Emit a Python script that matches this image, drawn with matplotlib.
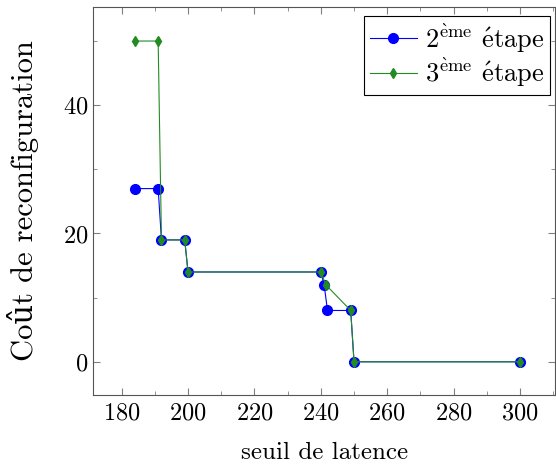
import matplotlib.pyplot as plt
from matplotlib.ticker import MultipleLocator

plt.rcParams['font.family'] = ['cmr10', 'DejaVu Serif']
plt.rcParams['mathtext.fontset'] = 'cm'
plt.rcParams['axes.formatter.use_mathtext'] = True

# ── data ──────────────────────────────────────────────────────────────────────

x_etape2 = [184, 191, 192, 199, 200, 240, 241, 242, 249, 250, 300]
y_etape2 = [27, 27, 19, 19, 14, 14, 12, 8, 8, 0, 0]

x_etape3 = [184, 191, 192, 199, 200, 240, 241.5, 249, 250, 300]
y_etape3 = [50, 50, 19, 19, 14, 14, 12, 8, 0, 0]

# ── plot ──────────────────────────────────────────────────────────────────────

fig = plt.figure(figsize=(5.56, 4.68), dpi=100)
ax = fig.add_axes([0.168, 0.157, 0.830, 0.828])

ax.plot(x_etape2, y_etape2, color="blue", lw=0.8, marker="o", ms=7,
        label=r"2$^{\mathrm{\`eme}}$ $\mathrm{\'etape}$")
ax.plot(x_etape3, y_etape3, color="#228b22", lw=0.8, marker="d", ms=5.5,
        label=r"3$^{\mathrm{\`eme}}$ $\mathrm{\'etape}$")

ax.set_xlim(171.5, 310.5)
ax.set_ylim(-5.1, 55.3)
ax.xaxis.set_major_locator(MultipleLocator(20))
ax.xaxis.set_minor_locator(MultipleLocator(10))
ax.yaxis.set_major_locator(MultipleLocator(20))
ax.yaxis.set_minor_locator(MultipleLocator(10))
ax.tick_params(which="both", direction="in", top=True, right=True,
               color="#808080", labelsize=17.5)
ax.tick_params(which="major", length=5)
ax.tick_params(which="minor", length=3)
ax.tick_params(axis="x", pad=6)
for s in ax.spines.values():
    s.set_color("#555555")

ax.set_xlabel("seuil de latence", fontsize=18, labelpad=12)
ax.set_ylabel("Coût de reconfiguration", fontsize=22)
ax.yaxis.set_label_coords(-0.118, 0.5)

leg = ax.legend(loc="upper right", bbox_to_anchor=(0.989, 0.977),
                fontsize=19, fancybox=False, edgecolor="black",
                framealpha=1, borderaxespad=0, handlelength=1.8,
                handletextpad=0.3, borderpad=0.2, labelspacing=0.05)
leg.get_frame().set_linewidth(0.8)

plt.savefig("out.png", dpi=100)
